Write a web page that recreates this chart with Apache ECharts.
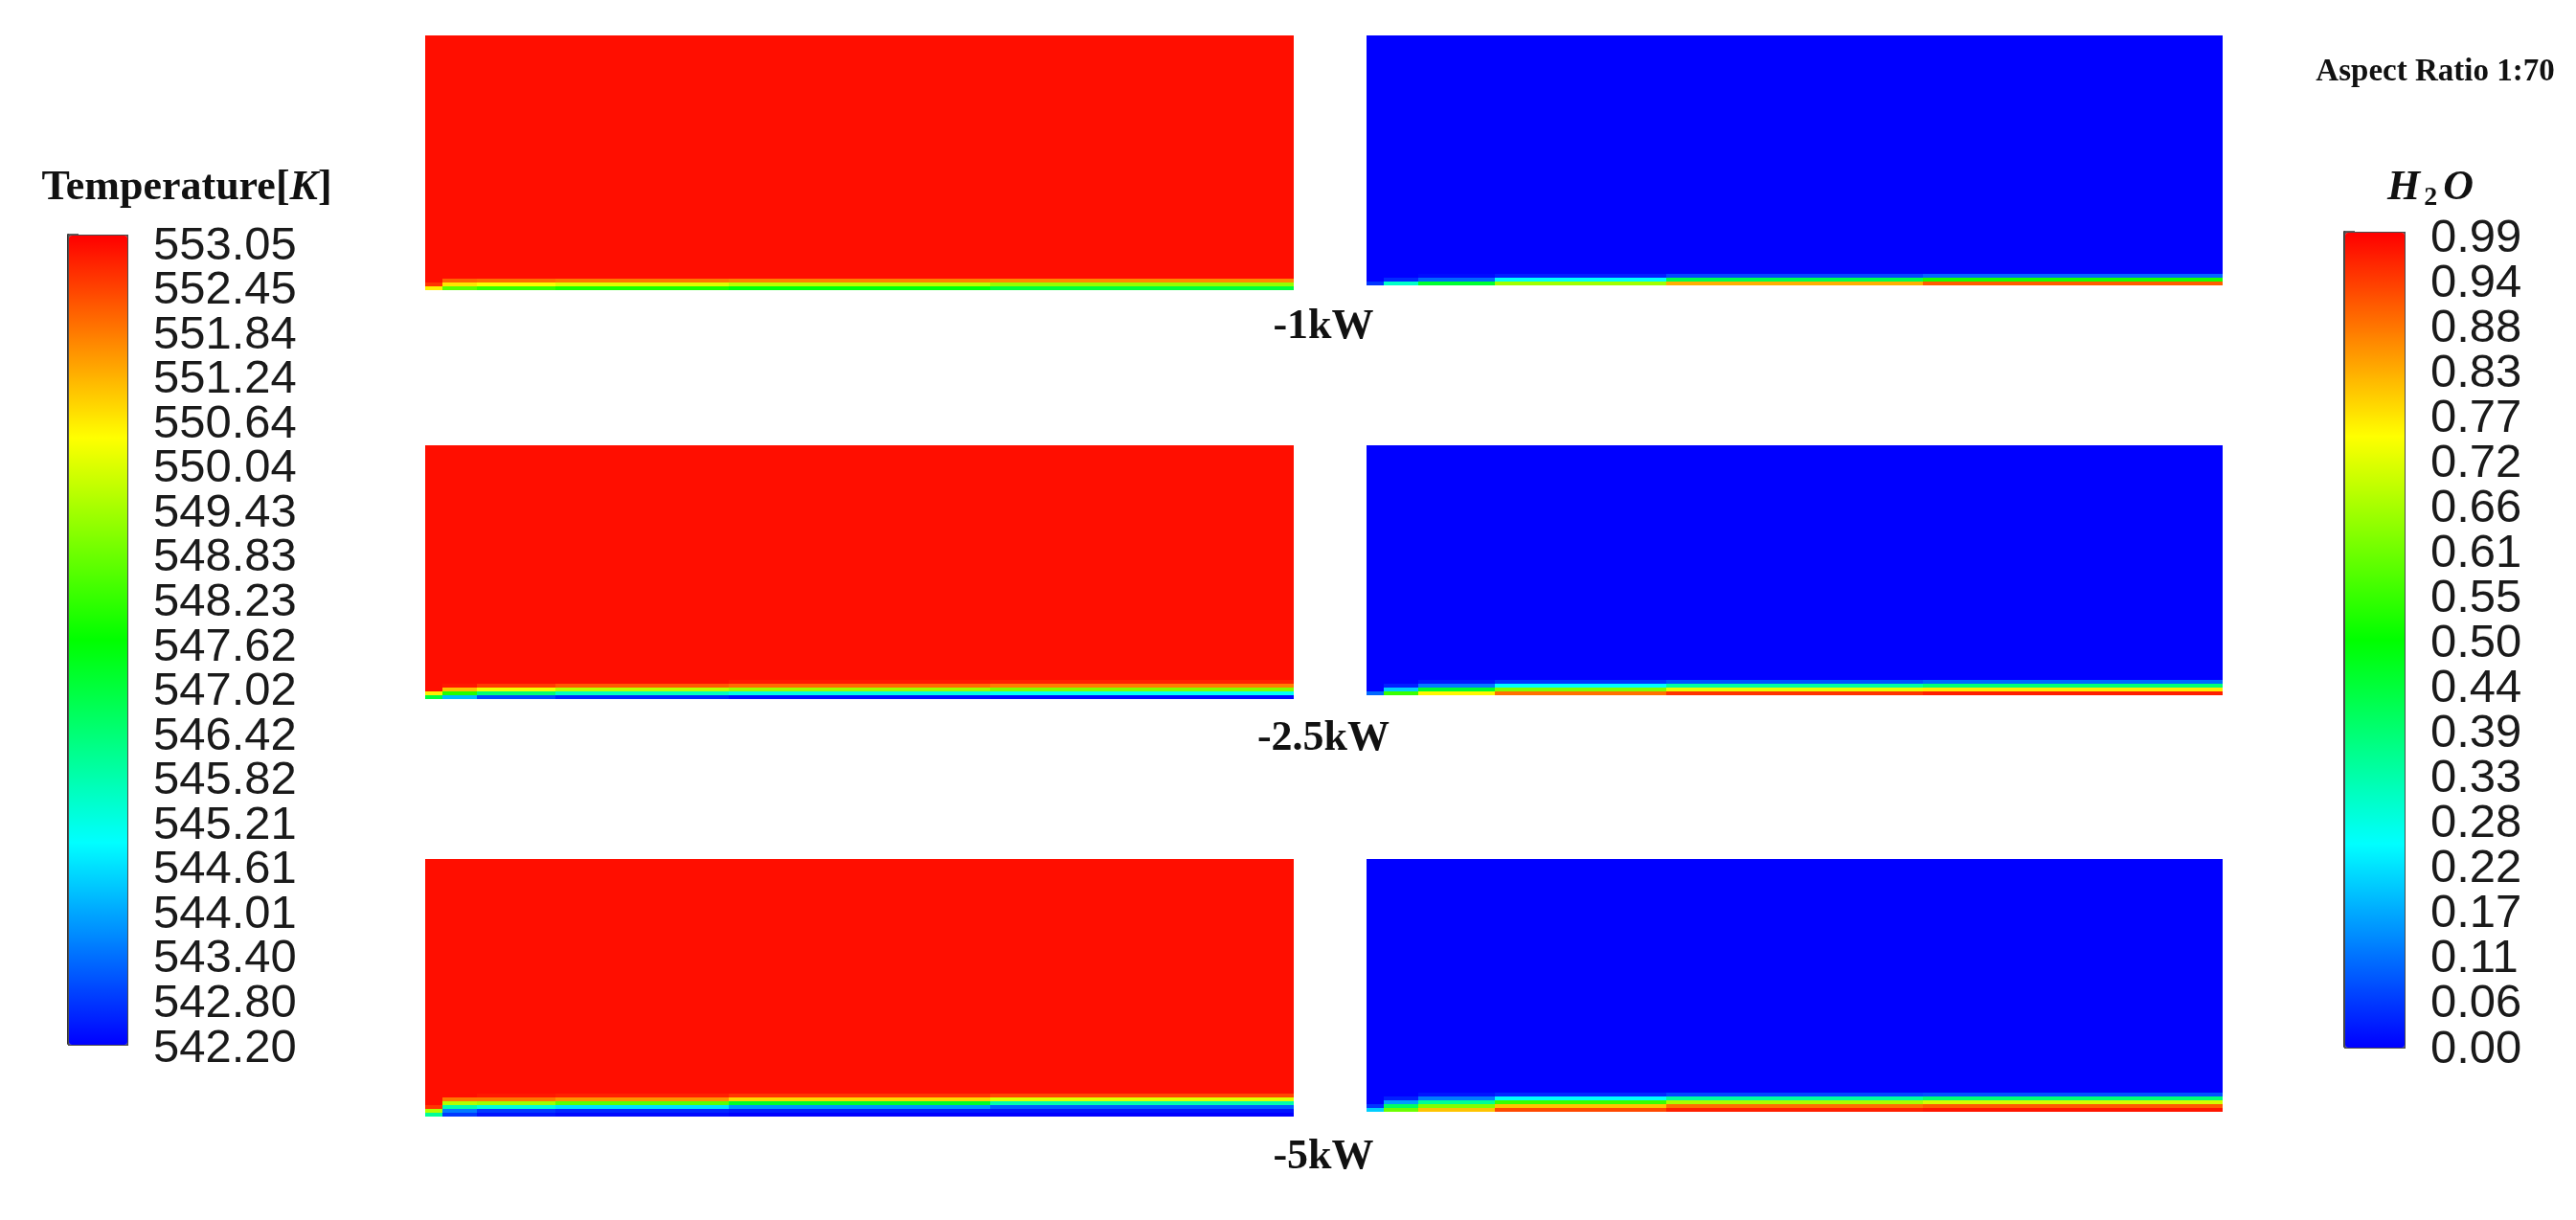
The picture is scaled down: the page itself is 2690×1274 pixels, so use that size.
<!DOCTYPE html>
<html>
<head>
<meta charset="utf-8">
<title>Temperature / H2O contours</title>
<script src="https://cdn.jsdelivr.net/npm/echarts@6/dist/echarts.min.js"></script>
<style>
  html, body { margin: 0; padding: 0; background: #fff; }
  #main { width: 2690px; height: 1274px; }
</style>
</head>
<body>
<div id="main"></div>
<script>
// cell edges: along the channel (% of length), across it (% of height, wall = 0)
var xEdges = [0, 2, 6, 15, 35, 65, 100];
var yEdges = [0, 1.5, 3, 4.5, 6, 7.5, 9, 100];

// temperature [K], rows = y bands from the wall up, cols = x bands
var temp1kW = [
  [550.5, 548.6, 548.2, 547.9, 547.5, 547.0],
  [552.5, 550.6, 550.3, 550.0, 549.6, 549.2],
  [552.9, 552.0, 551.9, 551.8, 551.7, 551.6],
  [552.9, 552.9, 552.9, 552.9, 552.9, 552.9],
  [552.9, 552.9, 552.9, 552.9, 552.9, 552.9],
  [552.9, 552.9, 552.9, 552.9, 552.9, 552.9],
  [552.9, 552.9, 552.9, 552.9, 552.9, 552.9]
];
var temp2p5kW = [
  [547.0, 544.2, 543.0, 542.6, 542.4, 542.3],
  [550.5, 548.0, 546.4, 545.6, 545.2, 545.0],
  [552.9, 551.0, 550.2, 549.6, 549.3, 549.0],
  [552.9, 552.8, 552.4, 552.1, 551.9, 551.7],
  [552.9, 552.9, 552.9, 552.9, 552.8, 552.7],
  [552.9, 552.9, 552.9, 552.9, 552.9, 552.9],
  [552.9, 552.9, 552.9, 552.9, 552.9, 552.9]
];
var temp5kW = [
  [546.0, 542.8, 542.4, 542.3, 542.2, 542.2],
  [549.5, 543.5, 542.8, 542.6, 542.5, 542.4],
  [552.5, 545.8, 545.3, 544.6, 543.8, 543.2],
  [552.9, 549.5, 549.3, 548.6, 547.2, 545.8],
  [552.9, 551.8, 551.8, 551.5, 550.8, 550.0],
  [552.9, 552.9, 552.8, 552.7, 552.5, 552.3],
  [552.9, 552.9, 552.9, 552.9, 552.9, 552.9]
];

// H2O mass fraction, same layout
var h2o1kW = [
  [0.05, 0.30, 0.45, 0.65, 0.82, 0.90],
  [0.00, 0.04, 0.10, 0.25, 0.42, 0.52],
  [0.00, 0.00, 0.01, 0.03, 0.07, 0.10],
  [0.00, 0.00, 0.00, 0.00, 0.00, 0.00],
  [0.00, 0.00, 0.00, 0.00, 0.00, 0.00],
  [0.00, 0.00, 0.00, 0.00, 0.00, 0.00],
  [0.00, 0.00, 0.00, 0.00, 0.00, 0.00]
];
var h2o2p5kW = [
  [0.10, 0.55, 0.75, 0.88, 0.94, 0.96],
  [0.00, 0.20, 0.45, 0.62, 0.72, 0.76],
  [0.00, 0.03, 0.12, 0.25, 0.34, 0.38],
  [0.00, 0.00, 0.02, 0.05, 0.08, 0.10],
  [0.00, 0.00, 0.00, 0.00, 0.00, 0.00],
  [0.00, 0.00, 0.00, 0.00, 0.00, 0.00],
  [0.00, 0.00, 0.00, 0.00, 0.00, 0.00]
];
var h2o5kW = [
  [0.20, 0.60, 0.80, 0.92, 0.96, 0.97],
  [0.05, 0.40, 0.62, 0.80, 0.88, 0.90],
  [0.00, 0.15, 0.35, 0.55, 0.66, 0.70],
  [0.00, 0.03, 0.12, 0.25, 0.34, 0.38],
  [0.00, 0.00, 0.02, 0.04, 0.07, 0.08],
  [0.00, 0.00, 0.00, 0.00, 0.00, 0.00],
  [0.00, 0.00, 0.00, 0.00, 0.00, 0.00]
];

var cases = ['-1kW', '-2.5kW', '-5kW'];
// colour bar labels, bottom to top
var tempTicks = ['542.20', '542.80', '543.40', '544.01', '544.61', '545.21', '545.82', '546.42', '547.02',
  '547.62', '548.23', '548.83', '549.43', '550.04', '550.64', '551.24', '551.84', '552.45', '553.05'];
var h2oTicks = ['0.00', '0.06', '0.11', '0.17', '0.22', '0.28', '0.33', '0.39', '0.44',
  '0.50', '0.55', '0.61', '0.66', '0.72', '0.77', '0.83', '0.88', '0.94', '0.99'];
var tempRange = [542.2, 553.05];
var h2oRange = [0, 0.99];

var rainbow = ['#0000ff', '#00ffff', '#00ff00', '#ffff00', '#ff0000'];
var serif = '"Liberation Serif", "Times New Roman", serif';
var sans = '"Liberation Sans", Arial, sans-serif';

// panel placement (px)
var leftX = 444, leftW = 907, rightX = 1427, rightW = 894;
var rowTop = [37, 465, 897];
var leftH = [266, 265, 269];
var rightH = [261, 261, 264];
var labelY = [342, 772, 1209];

function toCells(field) {
  var out = [];
  for (var r = 0; r < field.length; r++) {
    for (var c = 0; c < field[r].length; c++) {
      out.push([xEdges[c], xEdges[c + 1], yEdges[r], yEdges[r + 1], field[r][c]]);
    }
  }
  return out;
}

function renderCell(params, api) {
  var tl = api.coord([api.value(0), api.value(3)]);
  var br = api.coord([api.value(1), api.value(2)]);
  // snap to whole pixels so neighbouring cells meet without seams
  var x0 = Math.round(tl[0]), y0 = Math.round(tl[1]);
  var x1 = Math.round(br[0]), y1 = Math.round(br[1]);
  return {
    type: 'rect',
    shape: {x: x0, y: y0, width: x1 - x0, height: y1 - y0},
    style: {fill: api.visual('color')}
  };
}

var fields = [temp1kW, h2o1kW, temp2p5kW, h2o2p5kW, temp5kW, h2o5kW];

var grids = [], xAxes = [], yAxes = [], series = [];
for (var i = 0; i < 6; i++) {
  var row = Math.floor(i / 2), isLeft = i % 2 === 0;
  grids.push({
    left: isLeft ? leftX : rightX,
    width: isLeft ? leftW : rightW,
    top: rowTop[row],
    height: isLeft ? leftH[row] : rightH[row]
  });
  xAxes.push({type: 'value', gridIndex: i, min: 0, max: 100, show: false});
  yAxes.push({type: 'value', gridIndex: i, min: 0, max: 100, show: false});
  series.push({
    type: 'custom',
    xAxisIndex: i,
    yAxisIndex: i,
    silent: true,
    renderItem: renderCell,
    encode: {x: [0, 1], y: [2, 3]},
    data: toCells(fields[i])
  });
}

// colour bars: a value axis on the bar itself draws the line, major and minor ticks;
// the labels sit a little lower in the picture, so they get their own category axis
var bars = [
  {left: 71, top: 245, width: 61, height: 845, labelTop: 257, labelH: 838, ticks: tempTicks},
  {left: 2448, top: 242, width: 62, height: 851, labelTop: 249, labelH: 847, ticks: h2oTicks}
];
bars.forEach(function (b) {
  var gi = grids.length;
  grids.push({left: b.left, top: b.top, width: b.width, height: b.height});
  xAxes.push({type: 'value', gridIndex: gi, min: 0, max: 1, show: false});
  yAxes.push({
    type: 'value', gridIndex: gi, position: 'right',
    min: 0, max: 18, interval: 1,
    axisLine: {show: true, lineStyle: {color: '#333', width: 2}},
    axisTick: {show: true, length: 11, lineStyle: {color: '#333', width: 1.5}},
    minorTick: {show: true, splitNumber: 8, length: 6, lineStyle: {color: '#444', width: 1}},
    axisLabel: {show: false},
    splitLine: {show: false}
  });

  var gl = grids.length;
  grids.push({left: b.left, top: b.labelTop, width: b.width, height: b.labelH});
  xAxes.push({type: 'value', gridIndex: gl, min: 0, max: 1, show: false});
  yAxes.push({
    type: 'category', gridIndex: gl, position: 'right',
    data: b.ticks, boundaryGap: false,
    axisLine: {show: false},
    axisTick: {show: false},
    splitLine: {show: false},
    axisLabel: {interval: 0, margin: 28, fontSize: 49, fontFamily: sans, color: '#1a1a1a'}
  });
});

var chart = echarts.init(document.getElementById('main'));
chart.setOption({
  animation: false,
  backgroundColor: '#ffffff',
  grid: grids,
  xAxis: xAxes,
  yAxis: yAxes,
  visualMap: [
    {
      type: 'continuous', seriesIndex: [0, 2, 4], dimension: 4,
      min: tempRange[0], max: tempRange[1], calculable: false, hoverLink: false,
      inRange: {color: rainbow},
      left: 71, top: 245, itemWidth: 61, itemHeight: 845, padding: 0,
      borderColor: '#4d4d4d', borderWidth: 2
    },
    {
      type: 'continuous', seriesIndex: [1, 3, 5], dimension: 4,
      min: h2oRange[0], max: h2oRange[1], calculable: false, hoverLink: false,
      inRange: {color: rainbow},
      left: 2448, top: 242, itemWidth: 62, itemHeight: 851, padding: 0,
      borderColor: '#4d4d4d', borderWidth: 2
    }
  ],
  graphic: [
    {
      type: 'text', x: 195, y: 197,
      style: {
        text: '{b|Temperature[}{i|K}{b|]}',
        align: 'center', verticalAlign: 'middle',
        rich: {
          b: {font: 'bold 44px ' + serif, fill: '#111'},
          i: {font: 'italic bold 44px ' + serif, fill: '#111'}
        }
      }
    },
    {
      type: 'text', x: 2543, y: 75,
      style: {text: 'Aspect Ratio 1:70', font: 'bold 33px ' + serif, fill: '#111',
        align: 'center', verticalAlign: 'middle'}
    },
    {
      type: 'text', x: 2538, y: 197,
      style: {
        text: '{i|H}{s|2}{i|O}',
        align: 'center', verticalAlign: 'middle',
        rich: {
          i: {font: 'italic bold 44px ' + serif, fill: '#111'},
          s: {font: 'bold 28px ' + serif, fill: '#111', padding: [20, 6, 0, 4]}
        }
      }
    }
  ].concat(cases.map(function (c, r) {
    return {
      type: 'text', x: 1382, y: labelY[r],
      style: {text: c, font: 'bold 44px ' + serif, fill: '#111',
        align: 'center', verticalAlign: 'middle'}
    };
  })),
  series: series
});
</script>
</body>
</html>
